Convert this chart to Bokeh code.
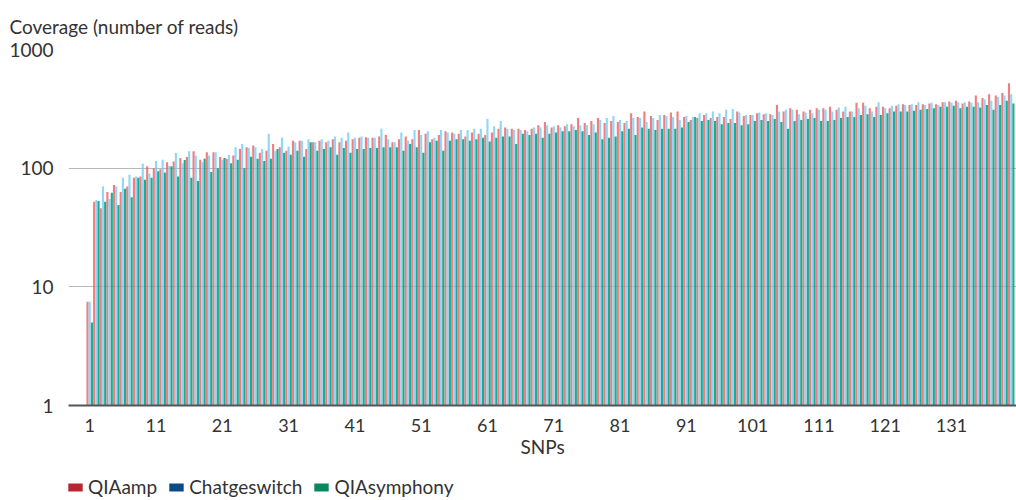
import numpy as np
from bokeh.plotting import figure
from bokeh.layouts import column
from bokeh.models import (ColumnDataSource, Range1d, FixedTicker, PrintfTickFormatter,
                          Legend, LegendItem)
from bokeh.embed import file_html
from bokeh.resources import INLINE

# ---------------- data ----------------
snps = list(range(1, 141))
series_names = ["QIAamp", "Chatgeswitch", "QIAsymphony"]

qiaamp = [
    7.5, 52, 46, 63, 72, 63, 70, 83, 85, 104,
    100, 98, 112, 114, 122, 124, 139, 118, 136, 136,
    124, 120, 128, 145, 150, 155, 135, 140, 160, 150,
    140, 170, 170, 145, 165, 170, 165, 175, 165, 170,
    175, 180, 182, 180, 185, 190, 165, 175, 185, 175,
    210, 195, 175, 190, 205, 200, 195, 185, 200, 195,
    190, 200, 215, 220, 215, 215, 210, 215, 230, 245,
    220, 230, 225, 235, 265, 240, 250, 265, 240, 250,
    245, 240, 290, 270, 300, 275, 255, 280, 295, 300,
    270, 255, 265, 280, 265, 270, 270, 260, 300, 275,
    280, 290, 285, 285, 340, 300, 320, 310, 300, 310,
    320, 320, 330, 310, 300, 300, 355, 355, 320, 330,
    330, 320, 335, 345, 340, 340, 345, 350, 345, 360,
    365, 370, 350, 365, 410, 390, 420, 410, 430, 520,
]
chatgeswitch = [
    7.5, 54, 70, 55, 70, 83, 88, 85, 109, 90,
    115, 118, 105, 134, 110, 139, 128, 112, 128, 136,
    118, 130, 150, 160, 148, 150, 145, 195, 140, 180,
    152, 165, 170, 175, 165, 175, 170, 185, 180, 200,
    180, 185, 180, 180, 215, 175, 165, 200, 170, 210,
    190, 205, 180, 210, 200, 195, 210, 210, 215, 215,
    260, 225, 250, 215, 210, 210, 205, 220, 220, 230,
    225, 220, 235, 225, 230, 230, 235, 255, 265, 275,
    255, 250, 265, 265, 245, 265, 280, 275, 270, 255,
    275, 270, 290, 290, 300, 290, 310, 315, 295, 280,
    280, 295, 290, 280, 300, 310, 310, 285, 295, 290,
    310, 310, 300, 325, 330, 300, 320, 335, 300, 360,
    320, 335, 345, 340, 345, 360, 340, 355, 340, 360,
    355, 360, 360, 355, 360, 380, 370, 400, 410, 420,
]
qiasymphony = [
    5, 53, 52, 62, 49, 67, 57, 83, 80, 83,
    94, 92, 104, 85, 117, 83, 78, 120, 93, 100,
    122, 110, 118, 100, 125, 120, 115, 120, 145, 135,
    130, 140, 125, 165, 140, 145, 150, 130, 148, 135,
    145, 145, 148, 148, 150, 150, 150, 140, 160, 150,
    135, 165, 170, 140, 170, 175, 175, 170, 175, 180,
    168, 180, 185, 185, 160, 195, 190, 195, 180, 195,
    200, 205, 205, 210, 205, 190, 200, 175, 180, 185,
    205, 215, 190, 220, 215, 210, 215, 215, 215, 220,
    245, 270, 250, 255, 250, 235, 240, 240, 230, 235,
    250, 255, 250, 260, 245, 215, 250, 255, 260, 265,
    250, 250, 255, 265, 270, 270, 280, 285, 270, 280,
    290, 300, 300, 300, 305, 310, 315, 320, 330, 330,
    335, 320, 330, 330, 325, 340, 310, 340, 370, 350,
]
x_tick_values = [1, 11, 21, 31, 41, 51, 61, 71, 81, 91, 101, 111, 121, 131]
y_tick_values = [1, 10, 100, 1000]

bar_colors = ["#ee666a", "#70cdf6", "#14a688"]
bar_alphas = [0.85, 0.8, 0.95]
legend_colors = ["#b8262f", "#0c4a86", "#07885f"]

FONT = "Lato"
TEXT = "#333333"

# ---------------- main figure ----------------
p = figure(width=1016, height=476, y_axis_type="log",
           x_range=Range1d(-2.2, 140.8), y_range=Range1d(1, 1000),
           output_backend="svg", toolbar_location=None,
           min_border_left=68, min_border_right=0, min_border_top=48,
           min_border_bottom=71)
p.outline_line_color = None
p.background_fill_color = "white"
p.border_fill_color = "white"

snp_arr = np.array(snps, dtype=float)
offsets = [-0.333, 0.0, 0.333]
for vals, col, a, off in zip([qiaamp, chatgeswitch, qiasymphony], bar_colors,
                             bar_alphas, offsets):
    src = ColumnDataSource(dict(x=snp_arr + off, top=vals))
    p.vbar(x="x", top="top", bottom=1, width=0.32, source=src,
           fill_color=col, fill_alpha=a, line_color=None)

# title as y-axis caption
p.title.text = "Coverage (number of reads)"
p.title.text_font = FONT
p.title.text_font_size = "19px"
p.title.text_font_style = "normal"
p.title.text_color = TEXT
p.title.align = "left"
p.title.offset = -59
p.title.standoff = 24

# y axis
p.yaxis.ticker = FixedTicker(ticks=y_tick_values)
p.yaxis.formatter = PrintfTickFormatter(format="%d")
p.yaxis.axis_line_color = None
p.yaxis.major_tick_line_color = None
p.yaxis.minor_tick_line_color = None
p.yaxis.major_label_standoff = 9
p.yaxis.major_label_text_font = FONT
p.yaxis.major_label_text_font_size = "19px"
p.yaxis.major_label_text_color = TEXT

p.ygrid.ticker = FixedTicker(ticks=y_tick_values)
p.ygrid.grid_line_color = "#b8b8b8"
p.ygrid.grid_line_width = 1
p.xgrid.grid_line_color = None

# x axis
p.xaxis.ticker = FixedTicker(ticks=x_tick_values)
p.xaxis.axis_label = "SNPs"
p.xaxis.axis_label_text_font = FONT
p.xaxis.axis_label_text_font_size = "19px"
p.xaxis.axis_label_text_font_style = "normal"
p.xaxis.axis_label_text_color = TEXT
p.xaxis.axis_label_standoff = 0
p.xaxis.axis_line_color = "#555555"
p.xaxis.axis_line_width = 2
p.xaxis.major_tick_line_color = None
p.xaxis.minor_tick_line_color = None
p.xaxis.major_label_standoff = 7
p.xaxis.major_label_text_font = FONT
p.xaxis.major_label_text_font_size = "18px"
p.xaxis.major_label_text_color = TEXT

# ---------------- legend strip ----------------
lg = figure(width=1016, height=24, x_range=Range1d(0, 1), y_range=Range1d(0, 1),
            output_backend="svg", toolbar_location=None,
            x_axis_location=None, y_axis_location=None,
            min_border_left=68, min_border_right=0, min_border_top=0,
            min_border_bottom=0)
lg.outline_line_color = None
lg.xgrid.visible = False
lg.ygrid.visible = False

legend_items = []
for name, col in zip(series_names, legend_colors):
    # legend proxy: no visible mark, only provides the legend swatch colour
    src = ColumnDataSource(dict(x=[np.nan], top=[np.nan]))
    r = lg.vbar(x="x", top="top", bottom=0, width=0.3, source=src,
                fill_color=col, line_color=None)
    legend_items.append(LegendItem(label=name, renderers=[r]))

legend = Legend(items=legend_items, orientation="horizontal", location=(-2, 2))
legend.border_line_color = None
legend.background_fill_alpha = 0
legend.padding = 0
legend.margin = 0
legend.spacing = 10
legend.label_standoff = 4
legend.glyph_width = 18
legend.glyph_height = 10
legend.label_text_font = FONT
legend.label_text_font_size = "19px"
legend.label_text_color = TEXT
legend.label_height = 20
lg.add_layout(legend, "center")

layout = column(p, lg, spacing=0)

open("out.html", "w").write(file_html(layout, INLINE))
